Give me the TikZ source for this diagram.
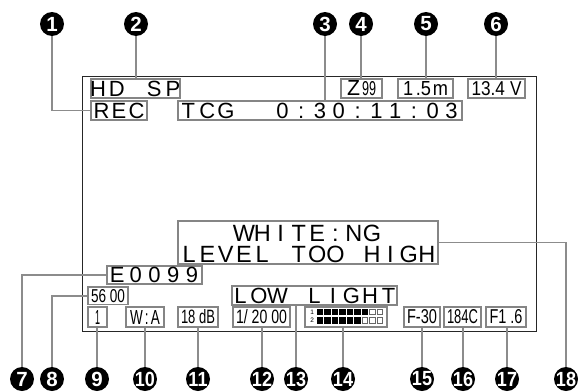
\documentclass[tikz,border=0pt]{standalone}
\usepackage{fontspec}
\usepackage{graphicx}
\newfontfamily\lcdfont{Liberation Sans}
\ExplSyntaxOn
\NewDocumentCommand\lcd{O{18.5pt}m}{\str_map_inline:nn{#2}{\makebox[#1]{##1}}}
\ExplSyntaxOff
\newcommand\lcdgap[1][18.5pt]{\makebox[#1]{}}
\newcommand\lcdfit[3]{\resizebox{#1}{#2}{#3}}
\newcommand\twodig[1]{\scalebox{0.88}[1]{#1}}
\tikzset{
  screenline/.style={draw=black!85, line width=0.8pt},
  lbox/.style={rectangle, draw=black!48, line width=1.4pt, inner sep=0pt, text=black,
    font=\lcdfont\fontsize{22pt}{22pt}\selectfont},
  sbox/.style={rectangle, draw=black!48, line width=1.4pt, inner sep=0pt, text=black,
    font=\lcdfont},
  bigtext/.style={inner sep=0pt, text=black, align=center,
    font=\lcdfont\fontsize{23.5pt}{21pt}\selectfont},
  leader/.style={draw=black!45, line width=1.5pt},
  num/.style={circle, fill=black, inner sep=0pt, minimum size=24pt, text=white,
    font=\lcdfont\bfseries\fontsize{20.5pt}{20.5pt}\selectfont},
  tiny/.style={inner sep=0pt, text=black, font=\lcdfont\fontsize{6.5pt}{6.5pt}\selectfont}
}
\begin{document}
\begin{tikzpicture}[x=1pt,y=-1pt]
\fill[white] (0,0) rectangle (578,391);
\useasboundingbox (0,0) rectangle (578,391);
% screen
\draw[screenline] (82,76) rectangle (536,331);
% top row
\node[lbox, minimum width=89pt, minimum height=19pt] (hdsp) at (135.5,88.5) {\makebox[0pt]{\lcd[18.75pt]{HD SP}}};
\node[lbox, minimum width=56pt, minimum height=19pt] (rec) at (119,110.5) {\makebox[0pt]{\lcd[17.5pt]{REC}}};
\node[lbox, minimum width=284pt, minimum height=19pt] (tcg) at (320,110.5) {\makebox[0pt]{\lcd[18.8pt]{TCG}\lcdgap[18.8pt]\lcdgap[18.8pt]\lcd[18.8pt]{0:30:11:03}}};
\node[sbox, minimum width=41pt, minimum height=19pt] (z99) at (361.5,88.5) {\lcdfit{13pt}{15pt}{Z}\hspace{2pt}\lcdfit{14pt}{14pt}{99}};
\node[sbox, minimum width=55pt, minimum height=19pt] (m15) at (425.5,88.5) {\lcdfit{45pt}{14pt}{1\hspace{0.15em}.5\hspace{0.1em}m}};
\node[sbox, minimum width=57pt, minimum height=19pt] (v134) at (496.5,88.5) {\lcdfit{50pt}{14pt}{13.4\hspace{0.3em}V}};
% warning box
\node[lbox, minimum width=260pt, minimum height=43pt] (white) at (308,242.5) {};
\node[bigtext] (whitetext) at (308,244.4) {\makebox[0pt]{\lcdgap[18.3pt]\lcdgap[18.3pt]\lcdgap[18.3pt]\lcd[18.3pt]{WHITE:NG}\lcdgap[18.3pt]\lcdgap[18.3pt]\lcdgap[18.3pt]}\\\makebox[0pt]{\lcd[18.3pt]{LEVEL TOO HIGH}}};
% middle
\node[lbox, minimum width=95pt, minimum height=18pt] (e0099) at (154.5,275) {\makebox[0pt]{\lcd[18.7pt]{E0099}}};
\node[sbox, minimum width=40pt, minimum height=17.5pt] (s5600) at (108,295.75) {\lcdfit{34pt}{13pt}{56 00}};
\node[lbox, minimum width=165pt, minimum height=19pt] (lowlight) at (314.5,295.5) {\makebox[0pt]{\lcd[18.5pt]{LOW LIGHT}}};
% bottom row
\node[sbox, minimum width=19pt, minimum height=20pt] (one) at (97.5,317) {\lcdfit{5pt}{14pt}{1}};
\node[sbox, minimum width=38pt, minimum height=20pt] (wa) at (145,317) {\lcdfit{30pt}{14pt}{W\,:\,A}};
\node[sbox, minimum width=40pt, minimum height=20pt] (db) at (198,317) {\lcdfit{34pt}{14pt}{18 dB}};
\node[sbox, minimum width=57pt, minimum height=20pt] (shut) at (261.5,317) {\lcdfit{51pt}{14pt}{1/ 20 00}};
\node[sbox, minimum width=82pt, minimum height=20pt] (meter) at (346,317) {};
\node[sbox, minimum width=36pt, minimum height=20pt] (f30) at (422,317) {\lcdfit{30pt}{14pt}{F-30}};
\node[sbox, minimum width=37pt, minimum height=20pt] (c184) at (462.5,317) {\lcdfit{31pt}{14pt}{184C}};
\node[sbox, minimum width=40pt, minimum height=20pt] (f16) at (506,317) {\lcdfit{33pt}{14pt}{F1 .6}};
% meter contents
\node[tiny] (mone) at (312.3,311.8) {1};
\node[tiny] (mtwo) at (312.3,320.3) {2};
\foreach \i in {0,...,6} \fill[black] (316.5+7.5*\i,308.5) rectangle ++(6.5,6.5);
\foreach \i in {7,8} \draw[black!60, line width=0.7pt] (316.85+7.5*\i,308.85) rectangle ++(5.8,5.8);
\foreach \i in {0,...,5} \fill[black] (316.5+7.5*\i,317) rectangle ++(6.5,6.5);
\foreach \i in {6,7,8} \draw[black!60, line width=0.7pt] (316.85+7.5*\i,317.35) rectangle ++(5.8,5.8);
% numbered circles
\node[num] (c1) at (52,24) {\makebox[0pt]{1}};
\node[num] (c2) at (136,24) {\makebox[0pt]{2}};
\node[num] (c3) at (325,24) {\makebox[0pt]{3}};
\node[num] (c4) at (361,24) {\makebox[0pt]{4}};
\node[num] (c5) at (426,24) {\makebox[0pt]{5}};
\node[num] (c6) at (496,24) {\makebox[0pt]{6}};
\node[num] (c7) at (22,379) {\makebox[0pt]{7}};
\node[num] (c8) at (52,379) {\makebox[0pt]{8}};
\node[num] (c9) at (97,379) {\makebox[0pt]{9}};
\node[num] (c10) at (145,379) {\makebox[0pt]{\twodig{10}}};
\node[num] (c11) at (198,379) {\makebox[0pt]{\twodig{11}}};
\node[num] (c12) at (262,379) {\makebox[0pt]{\twodig{12}}};
\node[num] (c13) at (296,379) {\makebox[0pt]{\twodig{13}}};
\node[num] (c14) at (343,379) {\makebox[0pt]{\twodig{14}}};
\node[num] (c15) at (422,379) {\makebox[0pt]{\twodig{15}}};
\node[num] (c16) at (463,379) {\makebox[0pt]{\twodig{16}}};
\node[num] (c17) at (507,379) {\makebox[0pt]{\twodig{17}}};
\node[num] (c18) at (566,379) {\makebox[0pt]{\twodig{18}}};
% leaders
\draw[leader] (c1.south) |- (rec.west);
\draw[leader] (c2.south) -- (c2.south |- hdsp.north);
\draw[leader] (c3.south) -- (c3.south |- tcg.north);
\draw[leader] (c4.south) -- (c4.south |- z99.north);
\draw[leader] (c5.south) -- (c5.south |- m15.north);
\draw[leader] (c6.south) -- (c6.south |- v134.north);
\draw[leader] (e0099.west) -| (c7.north);
\draw[leader] (s5600.west) -| (c8.north);
\draw[leader] (c9.north |- one.south) -- (c9.north);
\draw[leader] (c10.north |- wa.south) -- (c10.north);
\draw[leader] (c11.north |- db.south) -- (c11.north);
\draw[leader] (c12.north |- shut.south) -- (c12.north);
\draw[leader] (c13.north |- lowlight.south) -- (c13.north);
\draw[leader] (c14.north |- meter.south) -- (c14.north);
\draw[leader] (c15.north |- f30.south) -- (c15.north);
\draw[leader] (c16.north |- c184.south) -- (c16.north);
\draw[leader] (c17.north |- f16.south) -- (c17.north);
\draw[leader] (white.east) -| (c18.north);
\end{tikzpicture}
\end{document}
